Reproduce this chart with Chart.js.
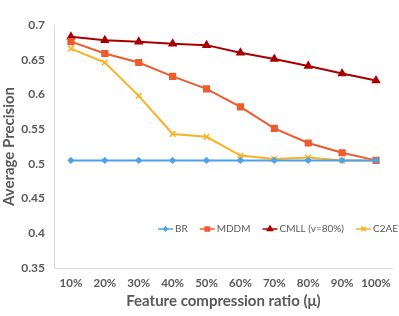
<!DOCTYPE html>
<html>
<head>
<meta charset="utf-8">
<script src="https://cdn.jsdelivr.net/npm/chart.js@4/dist/chart.umd.min.js"></script>
<style>
  html, body { margin: 0; padding: 0; background: #fff; }
  #wrap { width: 399px; height: 316px; }
</style>
</head>
<body>
<div id="wrap"><canvas id="chart"></canvas></div>
<script>
const categories = ["10%", "20%", "30%", "40%", "50%", "60%", "70%", "80%", "90%", "100%"];
const brValues = [0.505, 0.505, 0.505, 0.505, 0.505, 0.505, 0.505, 0.505, 0.505, 0.505];
const mddmValues = [0.676, 0.659, 0.646, 0.626, 0.608, 0.582, 0.551, 0.530, 0.516, 0.505];
const cmllValues = [0.683, 0.678, 0.676, 0.673, 0.671, 0.660, 0.651, 0.641, 0.630, 0.620];
const c2aeValues = [0.666, 0.646, 0.598, 0.543, 0.539, 0.512, 0.507, 0.509, 0.505, 0.505];
const yTicks = [0.35, 0.4, 0.45, 0.5, 0.55, 0.6, 0.65, 0.7];

const textColor = "#595959";
const fontFamily = "Lato, 'Open Sans', sans-serif";

// legend sits inside the plot area, below the lines
const insideLegend = {
  id: "insideLegend",
  afterDraw(chart) {
    const { ctx, chartArea } = chart;
    const y = chartArea.top + 204;
    let x = chartArea.left + 104;
    ctx.save();
    ctx.font = "10px " + fontFamily;
    ctx.textBaseline = "middle";
    chart.data.datasets.forEach((d) => {
      ctx.strokeStyle = d.borderColor;
      ctx.fillStyle = d.backgroundColor;
      ctx.lineWidth = 1.5;
      ctx.beginPath();
      ctx.moveTo(x, y);
      ctx.lineTo(x + 15, y);
      ctx.stroke();
      Chart.helpers.drawPoint(ctx, { pointStyle: d.pointStyle, radius: d.pointRadius * 0.75, borderWidth: 1 }, x + 7.5, y);
      ctx.fillStyle = textColor;
      ctx.fillText(d.label, x + 17, y);
      x += 17 + ctx.measureText(d.label).width + 12;
    });
    ctx.restore();
  },
};

new Chart(document.getElementById("chart"), {
  type: "line",
  data: {
    labels: categories,
    datasets: [
      {
        label: "BR",
        data: brValues,
        borderColor: "#4BA3EC",
        backgroundColor: "#4BA3EC",
        pointStyle: "rectRot",
        pointRadius: 2.5,
      },
      {
        label: "MDDM",
        data: mddmValues,
        borderColor: "#EE5B2E",
        backgroundColor: "#EE5B2E",
        pointStyle: "rect",
        pointRadius: 4,
      },
      {
        label: "CMLL (v=80%)",
        data: cmllValues,
        borderColor: "#A80000",
        backgroundColor: "#A80000",
        pointStyle: "triangle",
        pointRadius: 4,
      },
      {
        label: "C2AE",
        data: c2aeValues,
        borderColor: "#FFB020",
        backgroundColor: "#FFB020",
        pointStyle: "crossRot",
        pointRadius: 4,
      },
    ],
  },
  options: {
    responsive: true,
    maintainAspectRatio: false,
    animation: false,
    elements: {
      line: { borderWidth: 2, tension: 0 },
      point: { borderWidth: 1.5, hoverRadius: 4 },
    },
    layout: { padding: { top: 25, right: 1, left: 0, bottom: 0 } },
    scales: {
      x: {
        offset: true,
        grid: { display: false, drawTicks: false },
        border: { display: true, color: "#D9D9D9", width: 1 },
        ticks: {
          color: textColor,
          font: { family: fontFamily, size: 11.5, weight: "bold" },
          padding: 8,
          maxRotation: 0,
        },
        title: {
          display: true,
          text: "Feature compression ratio (μ)",
          color: textColor,
          font: { family: fontFamily, size: 15, weight: "bold" },
          padding: { top: 0, bottom: 6 },
        },
        afterFit(scale) { scale.height = 48; },
      },
      y: {
        min: 0.35,
        max: 0.7,
        afterBuildTicks(scale) { scale.ticks = yTicks.map((v) => ({ value: v })); },
        grid: { display: false, drawTicks: false },
        border: { display: true, color: "#D9D9D9", width: 1 },
        ticks: {
          color: textColor,
          font: { family: fontFamily, size: 12, weight: "bold" },
          padding: 9,
          callback: (v) => String(+v.toFixed(2)),
        },
        title: {
          display: true,
          text: "Average Precision",
          color: textColor,
          font: { family: fontFamily, size: 15, weight: "bold" },
          padding: { top: 0, bottom: 2 },
        },
        afterFit(scale) { scale.width = 54; },
      },
    },
    plugins: {
      legend: { display: false },
      tooltip: { enabled: false },
    },
  },
  plugins: [insideLegend],
});
</script>
</body>
</html>
